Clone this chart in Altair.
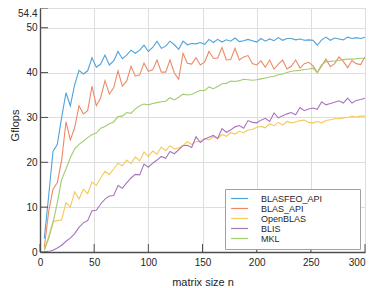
import altair as alt
import pandas as pd

n_vals = [4, 8, 12, 16, 20, 24, 28, 32, 36, 40, 44, 48, 52, 56, 60, 64, 68, 72, 76, 80,
          84, 88, 92, 96, 100, 104, 108, 112, 116, 120, 124, 128, 132, 136, 140, 144, 148, 152, 156, 160,
          164, 168, 172, 176, 180, 184, 188, 192, 196, 200, 204, 208, 212, 216, 220, 224, 228, 232, 236, 240,
          244, 248, 252, 256, 260, 264, 268, 272, 276, 280, 284, 288, 292, 296, 300]

blasfeo_api = [3.0, 12.5, 22.4, 24.0, 30.0, 35.5, 32.6, 37.3, 40.5, 39.7, 40.4, 43.3, 41.2, 41.9, 43.9, 41.7, 42.6, 44.7, 43.1, 43.9,
               45.0, 44.3, 45.0, 46.1, 44.7, 45.6, 47.0, 45.4, 45.9, 47.0, 46.2, 45.2, 47.0, 46.2, 46.5, 46.4, 46.7, 46.3, 47.4, 46.7,
               47.4, 46.8, 47.3, 47.0, 47.7, 46.9, 47.1, 47.4, 47.1, 46.8, 47.6, 47.0, 47.5, 47.1, 47.8, 47.2, 47.6, 47.6, 47.3, 47.5,
               47.2, 47.3, 47.2, 46.1, 47.3, 47.9, 47.2, 47.7, 47.5, 47.3, 47.9, 47.6, 47.8, 47.6, 47.9]

blas_api = [1.0, 9.0, 14.0, 15.5, 20.5, 29.0, 25.0, 27.7, 32.6, 30.8, 31.5, 37.0, 32.6, 34.4, 38.2, 35.2, 36.6, 40.4, 37.0, 38.1,
            41.4, 39.2, 39.5, 42.1, 40.3, 40.6, 42.8, 40.1, 40.1, 42.8, 39.9, 38.5, 44.3, 42.1, 41.9, 43.3, 41.7, 42.4, 44.7, 43.2,
            43.2, 45.6, 42.8, 42.9, 45.4, 42.8, 43.5, 43.8, 42.0, 41.7, 42.6, 41.2, 42.8, 40.8, 41.9, 42.8, 40.8, 41.4, 42.8, 41.0,
            42.0, 42.3, 41.5, 40.0, 41.5, 43.0, 41.3, 42.0, 43.5, 42.5, 41.1, 42.7, 42.0, 41.8, 43.5]

openblas = [0.5, 3.5, 6.8, 7.0, 7.2, 11.0, 10.0, 13.4, 11.8, 14.0, 13.0, 15.6, 14.9, 16.5, 18.0, 17.3, 18.5, 19.8, 19.2, 20.5,
            19.7, 21.2, 20.3, 22.3, 21.3, 22.5, 21.8, 23.4, 22.6, 23.7, 23.0, 23.2, 23.7, 24.6, 24.0, 24.6, 24.7, 25.3, 25.0, 25.7,
            25.3, 26.2, 25.8, 26.6, 26.3, 26.9, 26.6, 27.2, 27.3, 27.8, 28.0, 27.7, 28.6, 28.1, 28.9, 28.3, 29.1, 28.8, 29.0, 29.3,
            29.4, 28.9, 28.8, 29.1, 28.8, 29.3, 29.5, 29.7, 29.7, 29.9, 30.0, 30.3, 30.1, 30.3, 30.3]

blis = [0.0, 0.1, 0.4, 0.9, 1.5, 2.4, 3.1, 4.1, 5.5, 6.5, 7.0, 9.2, 9.3, 10.7, 11.8, 12.5, 12.6, 14.8, 14.2, 15.4,
        16.5, 17.3, 17.2, 19.6, 18.9, 19.8, 20.5, 21.3, 20.9, 22.4, 21.9, 22.8, 23.7, 23.8, 23.3, 25.7, 24.4, 25.2, 25.6, 26.0,
        25.3, 27.5, 26.7, 27.2, 27.9, 28.2, 27.6, 29.3, 28.9, 28.8, 29.4, 29.8, 29.1, 31.0, 29.9, 30.4, 30.8, 31.1, 30.6, 32.2,
        31.5, 31.9, 32.1, 31.8, 33.5, 32.8, 33.1, 33.4, 33.7, 33.2, 34.3, 33.2, 33.8, 34.0, 34.3]

mkl = [0.4, 3.0, 6.5, 11.0, 16.2, 18.5, 21.0, 23.0, 24.0, 24.7, 25.5, 26.2, 26.5, 27.6, 28.0, 28.6, 29.0, 30.2, 30.3, 31.1,
       30.9, 31.9, 32.6, 33.0, 32.8, 33.1, 33.3, 33.5, 33.6, 34.4, 33.9, 34.5, 35.2, 35.0, 35.1, 35.6, 36.0, 36.0, 36.8, 36.4,
       36.9, 37.5, 37.6, 38.1, 38.0, 38.2, 38.5, 38.4, 38.3, 38.4, 38.6, 38.8, 39.0, 39.2, 39.5, 39.7, 40.0, 40.3, 40.4, 40.5,
       40.7, 40.8, 41.0, 40.0, 41.8, 42.4, 42.5, 42.6, 42.7, 42.9, 43.0, 43.0, 43.1, 43.2, 43.2]

series_names = ["BLASFEO_API", "BLAS_API", "OpenBLAS", "BLIS", "MKL"]
series_colors = ["#4FA2DB", "#EC8A66", "#F5C95A", "#A874BC", "#A2CB70"]
series_values = [blasfeo_api, blas_api, openblas, blis, mkl]

x_ticks = [0, 50, 100, 150, 200, 250, 300]
y_ticks = [0, 10, 20, 30, 40, 50, 54.4]

rows = []
for name, vals in zip(series_names, series_values):
    for n, v in zip(n_vals, vals):
        rows.append({"n": n, "gflops": v, "series": name})
df = pd.DataFrame(rows)

W, H = 325, 244
FONT = "Liberation Sans"
AXC = "#4D4D4D"
GRID = "#DEDEDE"
TXT = "#262626"

xscale = alt.Scale(domain=[0, 300], nice=False, zero=False)
yscale = alt.Scale(domain=[0, 54.4], nice=False, zero=False)

x_axis = alt.Axis(values=x_ticks, format=".0f", grid=True, gridColor=GRID, tickSize=0,
                  domainColor=AXC, domainWidth=1.4,
                  labelFont=FONT, labelFontSize=10, labelColor=TXT, labelPadding=5,
                  labelFlush=False,
                  labelAlign={"condition": {"test": "datum.value >= 300", "value": "right"}, "value": "center"},
                  title="matrix size n", titleFont=FONT, titleFontSize=11,
                  titleFontWeight="normal", titleColor=TXT, titlePadding=9)
y_axis = alt.Axis(values=y_ticks, format=".1~f", grid=True, gridColor=GRID, tickSize=0,
                  domainColor=AXC, domainWidth=1.4,
                  labelFont=FONT, labelFontSize=10, labelColor=TXT, labelPadding=3,
                  labelBaseline={"condition": {"test": "datum.value > 54", "value": "top"}, "value": "middle"},
                  title="Gflops", titleFont=FONT, titleFontSize=11,
                  titleFontWeight="normal", titleColor=TXT, titleX=-20, titleY=117)

lines = alt.Chart(df).mark_line(strokeWidth=1.1, clip=True).encode(
    x=alt.X("n:Q", scale=xscale, axis=x_axis),
    y=alt.Y("gflops:Q", scale=yscale, axis=y_axis),
    color=alt.Color("series:N",
                    scale=alt.Scale(domain=series_names, range=series_colors),
                    sort=series_names,
                    legend=alt.Legend(title=None, orient="none", legendX=185, legendY=181,
                                      direction="vertical",
                                      symbolType="M-2.4,0H2.4", symbolSize=49, symbolStrokeWidth=1.2,
                                      symbolOffset=5, labelOffset=17, padding=5, rowPadding=-2,
                                      labelFont=FONT, labelFontSize=9, labelColor=TXT,
                                      labelExpr="pad(datum.label, 24, '\u00a0') + '\u200b'",
                                      strokeColor="#A0A0A0", fillColor="white")),
)

yt = alt.Chart(pd.DataFrame({"gflops": y_ticks})).mark_rule(color=AXC, strokeWidth=1).encode(
    y=alt.Y("gflops:Q", scale=yscale, axis=y_axis),
    x=alt.value(0), x2=alt.value(8),
)
xt = alt.Chart(pd.DataFrame({"n": x_ticks})).mark_rule(color=AXC, strokeWidth=1).encode(
    x=alt.X("n:Q", scale=xscale, axis=x_axis),
    y=alt.value(H), y2=alt.value(H - 8),
)

chart = alt.layer(lines, yt, xt).properties(
    width=W, height=H,
    autosize=alt.AutoSizeParams(type="none"),
    padding={"left": 32, "top": 0, "right": 1, "bottom": 36},
).configure_view(stroke=None).configure(background="white")

chart.save("out.html", embed_options={"renderer": "svg", "actions": False})
